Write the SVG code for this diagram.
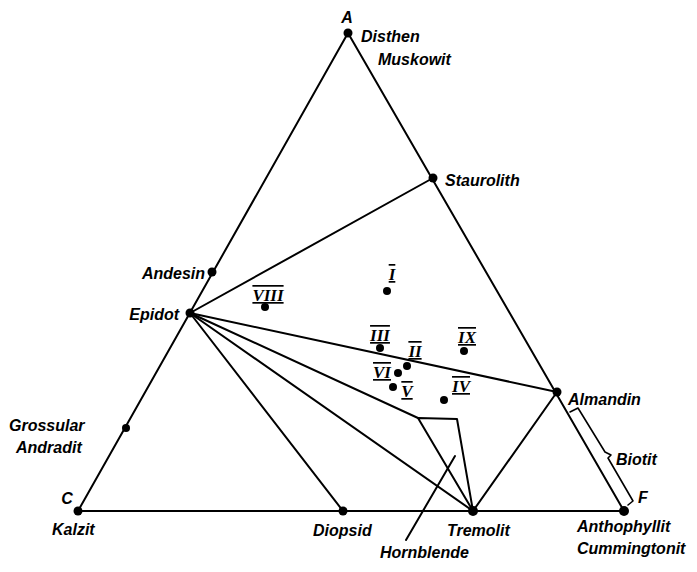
<svg xmlns="http://www.w3.org/2000/svg" width="697" height="572" viewBox="0 0 697 572">
<style>
.l{stroke:#000;stroke-width:2;fill:none;stroke-linecap:round;stroke-linejoin:round}
.t{font-family:"Liberation Sans",Arial,sans-serif;font-style:italic;font-weight:bold;font-size:16px;fill:#000}
.r{font-family:"Liberation Serif","Times New Roman",serif;font-style:italic;font-weight:bold;font-size:17px;fill:#000;text-anchor:middle;text-decoration:underline overline}
.d{fill:#000}
</style>
<rect width="697" height="572" fill="#fff"/>
<g id="connectors">
<polygon class="l" points="348,33 78,511 624,511"/>
<line class="l" x1="190" y1="313" x2="433" y2="178"/>
<line class="l" x1="190" y1="313" x2="557" y2="392"/>
<line class="l" x1="190" y1="313" x2="418" y2="418"/>
<line class="l" x1="190" y1="313" x2="473" y2="511"/>
<line class="l" x1="190" y1="313" x2="343" y2="511"/>
<polyline class="l" points="473,511 418,418 457,419 473,511"/>
<line class="l" x1="473" y1="511" x2="557" y2="392"/>
<line class="l" x1="455" y1="456" x2="406" y2="540"/>
<polyline class="l" style="stroke-width:1.6" points="570,412 578,408 605,452 611,455 608,458 633,501 628,505"/>
</g>
<g id="A"><circle class="d" cx="348" cy="33" r="4.5"/><text class="t" x="347" y="23" text-anchor="middle">A</text><text class="t" x="361" y="42">Disthen</text><text class="t" x="378" y="65">Muskowit</text></g>
<g id="Staurolith"><circle class="d" cx="433" cy="178" r="4.5"/><text class="t" x="445" y="186">Staurolith</text></g>
<g id="Andesin"><circle class="d" cx="212" cy="272" r="4.5"/><text class="t" x="205" y="279" text-anchor="end">Andesin</text></g>
<g id="Epidot"><circle class="d" cx="190" cy="313" r="4.5"/><text class="t" x="179" y="320" text-anchor="end">Epidot</text></g>
<g id="Grossular"><circle class="d" cx="126" cy="428" r="4"/><text class="t" x="9" y="431">Grossular</text><text class="t" x="16" y="453">Andradit</text></g>
<g id="C"><circle class="d" cx="78" cy="511" r="4.5"/><text class="t" x="67" y="504" text-anchor="middle">C</text><text class="t" x="52" y="535">Kalzit</text></g>
<g id="Diopsid"><circle class="d" cx="343" cy="511" r="4.5"/><text class="t" x="313" y="536">Diopsid</text></g>
<g id="Tremolit"><circle class="d" cx="473" cy="511" r="5"/><text class="t" x="447" y="536">Tremolit</text></g>
<g id="F"><circle class="d" cx="624" cy="511" r="5"/><text class="t" x="643" y="503" text-anchor="middle">F</text><text class="t" x="577" y="532">Anthophyllit</text><text class="t" x="577" y="554">Cummingtonit</text></g>
<g id="Almandin"><circle class="d" cx="557" cy="392" r="4.5"/><text class="t" x="568" y="405">Almandin</text></g>
<g id="Biotit"><text class="t" x="616" y="465">Biotit</text></g>
<g id="Hornblende"><text class="t" x="380" y="558">Hornblende</text></g>
<g id="I"><circle class="d" cx="387" cy="291" r="4"/><text class="r" x="392" y="280">I</text></g>
<g id="VIII"><circle class="d" cx="265" cy="307" r="4"/><text class="r" x="268" y="301">VIII</text></g>
<g id="III"><circle class="d" cx="380" cy="348" r="4"/><text class="r" x="380" y="341">III</text></g>
<g id="II"><circle class="d" cx="407" cy="366" r="4"/><text class="r" x="415" y="357">II</text></g>
<g id="IX"><circle class="d" cx="464" cy="351" r="4"/><text class="r" x="467" y="343">IX</text></g>
<g id="VI"><circle class="d" cx="398" cy="373" r="4"/><text class="r" x="382" y="378">VI</text></g>
<g id="V"><circle class="d" cx="393" cy="387" r="4"/><text class="r" x="407" y="397">V</text></g>
<g id="IV"><circle class="d" cx="444" cy="400" r="4"/><text class="r" x="461" y="392">IV</text></g>
</svg>
